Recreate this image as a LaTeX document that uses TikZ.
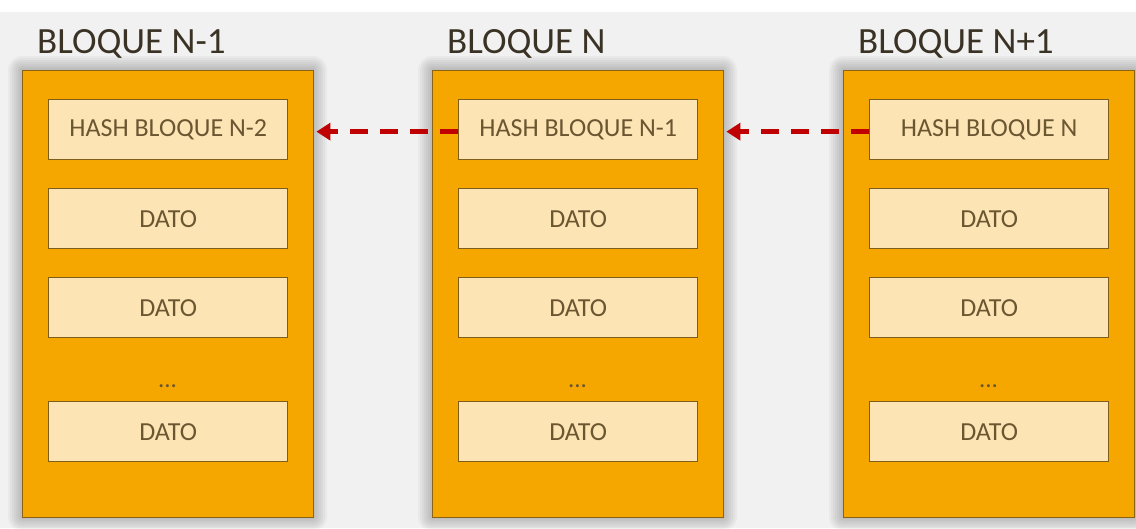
\documentclass[tikz,border=0pt]{standalone}
\usepackage{fontspec}
\setmainfont{Carlito}
\usetikzlibrary{arrows.meta}
\definecolor{bgc}{HTML}{F1F1F1}
\definecolor{orangefill}{HTML}{F5A700}
\definecolor{orangeline}{HTML}{8A6414}
\definecolor{innerfill}{HTML}{FDE4B4}
\definecolor{innerline}{HTML}{7F5E1C}
\definecolor{innertext}{HTML}{6B5632}
\definecolor{titletext}{HTML}{3A3224}
\definecolor{arrowred}{HTML}{C00000}
\begin{document}
\begin{tikzpicture}[x=1pt,y=-1pt,
  block/.style={draw=orangeline, line width=1.4pt, fill=orangefill, anchor=north west,
    minimum width=291pt, minimum height=447pt, inner sep=0pt},
  shade/.style={fill=black, opacity=0.03},
  cell/.style={draw=innerline, line width=1.3pt, fill=innerfill, anchor=north west,
    minimum width=239pt, minimum height=60pt, inner sep=0pt,
    text=innertext, font=\fontsize{26}{31}\selectfont},
  dots/.style={anchor=base, text=innertext, font=\fontsize{25}{30}\selectfont, inner sep=0pt},
  title/.style={anchor=base west, text=titletext, font=\fontsize{37}{44}\selectfont, inner sep=0pt},
  link/.style={draw=arrowred, line width=4.5pt, dash pattern=on 18pt off 12pt,
    -{Triangle[length=14pt,width=17pt]}}
]
\useasboundingbox (0,0) rectangle (1136,528);
\fill[white] (0,0) rectangle (1136,528);
\fill[bgc] (0,12) rectangle (1136,528);
\foreach \i/\x/\t/\h in {1/22/{BLOQUE N-1}/{HASH BLOQUE N-2},2/432/{BLOQUE N}/{HASH BLOQUE N-1},3/843/{BLOQUE N+1}/{HASH BLOQUE N}}{
  \foreach \s in {2,4,...,14}{
    \fill[shade, rounded corners=\s pt] (\x-\s,70-\s) rectangle (\x+291+\s,517+\s);
  }
  \node[title] (t\i) at (\x+15,53) {\t};
  \node[block] (b\i) at (\x,70) {};
  \node[cell] (h\i) at (\x+26,99) {\h};
  \node[cell] (da\i) at (\x+26,188) {DATO};
  \node[cell] (db\i) at (\x+26,277) {DATO};
  \node[dots] (dd\i) at (\x+145.5,387) {...};
  \node[cell] (dc\i) at (\x+26,401) {DATO};
}
\coordinate (e1) at ([xshift=2pt,yshift=-2pt]b1.east |- h2.west);
\coordinate (e2) at ([xshift=2pt,yshift=-2pt]b2.east |- h3.west);
\draw[link] ([yshift=-2pt]h2.west) -- (e1);
\draw[link] ([yshift=-2pt]h3.west) -- (e2);
\end{tikzpicture}
\end{document}
